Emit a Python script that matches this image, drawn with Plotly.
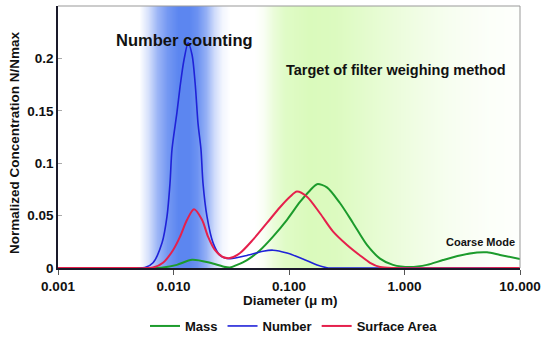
import plotly.graph_objects as go

# ---- data ----
number_d = [0.001, 0.003, 0.00566, 0.00665, 0.00796, 0.00878, 0.00933, 0.0097, 0.0107, 0.0114,
            0.0123, 0.0134, 0.0145, 0.0154, 0.0163, 0.0173, 0.0180, 0.0195, 0.0220, 0.0253,
            0.0308, 0.0433, 0.0596, 0.0727, 0.0961, 0.132, 0.175, 0.213, 0.3, 10.0]
number_v = [0.0, 0.0, 0.0005, 0.005, 0.024, 0.049, 0.081, 0.113, 0.148, 0.173,
            0.198, 0.215, 0.203, 0.176, 0.138, 0.113, 0.081, 0.049, 0.024, 0.012,
            0.0088, 0.012, 0.016, 0.017, 0.0143, 0.0086, 0.0029, 0.0003, 0.0, 0.0]

surface_d = [0.001, 0.004, 0.00665, 0.00811, 0.0099, 0.0114, 0.0131, 0.01505, 0.01765, 0.0199,
             0.0229, 0.0268, 0.0308, 0.0377, 0.0488, 0.0645, 0.0836, 0.102, 0.117, 0.143,
             0.186, 0.240, 0.318, 0.412, 0.503, 0.614, 0.827, 10.0]
surface_v = [0.0, 0.0, 0.0005, 0.005, 0.017, 0.030, 0.046, 0.056, 0.046, 0.030,
             0.017, 0.0105, 0.0095, 0.0143, 0.027, 0.043, 0.058, 0.068, 0.073, 0.068,
             0.052, 0.035, 0.022, 0.012, 0.005, 0.001, 0.0, 0.0]

mass_d = [0.001, 0.004, 0.00626, 0.00811, 0.0107, 0.0145, 0.0207, 0.0268, 0.0308, 0.0355,
          0.0433, 0.0561, 0.0727, 0.0961, 0.1245, 0.152, 0.175, 0.213, 0.276, 0.358,
          0.473, 0.614, 0.795, 1.116, 1.566, 2.154, 3.024, 4.243, 5.18, 6.71, 10.0]
mass_v = [0.0, 0.0, 0.0, 0.0005, 0.003, 0.0078, 0.005, 0.0015, 0.0005, 0.003,
          0.0076, 0.017, 0.030, 0.046, 0.063, 0.074, 0.080, 0.077, 0.062, 0.043,
          0.022, 0.009, 0.003, 0.001, 0.003, 0.0076, 0.012, 0.0148, 0.015, 0.0125, 0.0085]

# background bands (negative = number-counting blue band, positive = filter-weighing green band)
band_d = [0.001, 0.0050, 0.0060, 0.0072, 0.0088, 0.0110, 0.0135, 0.0160, 0.0190, 0.0225, 0.0265, 0.031,
          0.05, 0.06, 0.072, 0.092, 0.15, 0.25, 0.45, 0.8, 1.5, 2.5, 5.0, 10.0]
band_v = [0.0, 0.0, -0.25, -0.6, -0.85, -1.0, -1.0, -0.9, -0.65, -0.3, -0.08, 0.0,
          0.0, 0.15, 0.55, 0.85, 1.0, 0.95, 0.75, 0.55, 0.35, 0.22, 0.1, 0.04]

x_tickvals = [0.001, 0.01, 0.1, 1, 10]
x_ticktext = ["0.001", "0.010", "0.100", "1.000", "10.000"]
y_tickvals = [0, 0.05, 0.1, 0.15, 0.2, 0.25]
y_ticktext = ["0", "0.05", "0.1", "0.15", "0.2", "0.25"]

FONT = "Liberation Sans, Arial, sans-serif"

fig = go.Figure()

fig.add_trace(go.Heatmap(
    x=band_d, y=[0, 0.25], z=[band_v, band_v],
    zmin=-1, zmax=1, zsmooth="best", showscale=False, hoverinfo="skip",
    colorscale=[[0.0, "rgb(92,134,240)"], [0.5, "rgb(255,255,255)"], [1.0, "rgb(218,250,188)"]],
    showlegend=False,
))

fig.add_trace(go.Scatter(x=mass_d, y=mass_v, name="Mass", mode="lines",
                         line=dict(color="#1c9b2c", width=2, shape="spline", smoothing=0.8)))
fig.add_trace(go.Scatter(x=number_d, y=number_v, name="Number", mode="lines",
                         line=dict(color="#1f22d8", width=1.6, shape="spline", smoothing=0.8)))
fig.add_trace(go.Scatter(x=surface_d, y=surface_v, name="Surface Area", mode="lines",
                         line=dict(color="#e5204c", width=2, shape="spline", smoothing=0.8)))


def px_x(px):
    return (px - 58) / 462


def px_y(py):
    return (268 - py) / 262


fig.update_layout(
    width=542, height=340,
    margin=dict(l=58, r=22, t=6, b=72, autoexpand=False),
    paper_bgcolor="white", plot_bgcolor="white",
    font=dict(family=FONT, color="#111"),
    showlegend=True,
    legend=dict(orientation="h", x=px_x(294), xanchor="center", y=px_y(326), yanchor="middle",
                font=dict(size=13, weight="bold"), itemwidth=30, tracegroupgap=0,
                bgcolor="rgba(0,0,0,0)"),
    xaxis=dict(type="log", range=[-3, 1], tickvals=x_tickvals, ticktext=x_ticktext,
               showgrid=False, zeroline=False, showline=True, linecolor="#1a1a2a", linewidth=1.5,
               ticks="outside", ticklen=5, tickcolor="#555", automargin=False,
               tickfont=dict(size=13.5, weight="bold", family=FONT)),
    yaxis=dict(range=[0, 0.25], tickvals=y_tickvals, ticktext=y_ticktext,
               showgrid=False, zeroline=False, showline=True, linecolor="#1a1a2a", linewidth=1.5,
               ticks="inside", ticklen=4, tickcolor="#aaa", automargin=False,
               tickfont=dict(size=13.5, weight="bold", family=FONT)),
    shapes=[
        dict(type="line", xref="paper", yref="paper", x0=0, x1=1, y0=1, y1=1,
             line=dict(color="#999", width=1), layer="above"),
        dict(type="line", xref="paper", yref="paper", x0=1, x1=1, y0=0, y1=1,
             line=dict(color="#999", width=1), layer="above"),
    ],
    annotations=[
        dict(text="Number counting", xref="paper", yref="paper", x=px_x(184), y=px_y(40),
             xanchor="center", yanchor="middle",
             showarrow=False, font=dict(size=16.5, weight="bold", family=FONT)),
        dict(text="Target of filter weighing method", xref="paper", yref="paper",
             x=px_x(396), y=px_y(70), xanchor="center", yanchor="middle",
             showarrow=False, font=dict(size=14.5, weight="bold", family=FONT)),
        dict(text="Coarse Mode", xref="paper", yref="paper", x=px_x(517), xanchor="right",
             y=px_y(242), yanchor="middle",
             showarrow=False, font=dict(size=11, weight="bold", family=FONT)),
        dict(text="Diameter (μ m)", xref="paper", yref="paper", x=px_x(290), y=px_y(300),
             xanchor="center", yanchor="middle",
             showarrow=False, font=dict(size=13.5, weight="bold", family=FONT)),
        dict(text="Normalized Concentration N/Nmax", xref="paper", yref="paper",
             x=px_x(15), y=px_y(143), textangle=-90, xanchor="center", yanchor="middle",
             showarrow=False, font=dict(size=13.5, weight="bold", family=FONT)),
    ],
)

fig.write_html("out.html")
